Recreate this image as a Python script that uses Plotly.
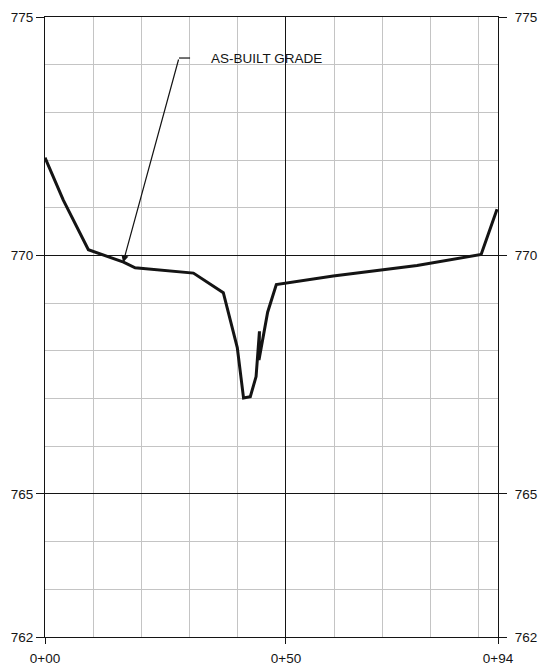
import plotly.graph_objects as go

# Ground profile surveyed along the section (station in ft, elevation in ft)
stations = [0.0, 3.8, 9.0, 16.3, 18.7, 30.8, 37.0, 39.9, 41.2, 42.6, 43.8, 44.5, 44.4,
            46.2, 48.0, 59.8, 77.2, 90.5, 93.8]
elevations = [772.05, 771.16, 770.12, 769.86, 769.74, 769.63, 769.22, 768.07, 767.01,
              767.04, 767.46, 768.41, 767.81, 768.81, 769.39, 769.57, 769.79, 770.02, 770.97]

x_ticks = [0, 50, 94]
x_tick_text = ["0+00", "0+50", "0+94"]
y_ticks = [762, 765, 770, 775]
y_tick_text = ["762", "765", "770", "775"]

callout_text = "AS-BUILT GRADE"
# leader: arrow tip on the profile, elbow, end of horizontal stub
leader_tip = (16.2, 769.85)
leader_elbow = (27.8, 774.14)
leader_end = (30.1, 774.14)

FONT = "Liberation Sans, Arial, sans-serif"
INK = "#141414"
MINOR = "#c4c4c4"

fig = go.Figure()

fig.add_trace(go.Scatter(
    x=stations, y=elevations, mode="lines",
    line=dict(color=INK, width=3), showlegend=False, hoverinfo="skip",
))

# horizontal stub of the leader
fig.add_trace(go.Scatter(
    x=[leader_elbow[0], leader_end[0]], y=[leader_elbow[1], leader_end[1]],
    mode="lines", line=dict(color=INK, width=1.2), showlegend=False, hoverinfo="skip",
))
# invisible trace so the right-hand axis is drawn
fig.add_trace(go.Scatter(x=[0], y=[762], yaxis="y2", mode="markers",
                         marker=dict(opacity=0), showlegend=False, hoverinfo="skip"))

fig.add_annotation(
    x=leader_tip[0], y=leader_tip[1], ax=leader_elbow[0], ay=leader_elbow[1],
    axref="x", ayref="y", xref="x", yref="y", text="",
    showarrow=True, arrowhead=2, arrowsize=1.2, arrowwidth=1.2, arrowcolor=INK,
)
fig.add_annotation(
    x=34.0, y=leader_end[1], xref="x", yref="y", text=callout_text,
    showarrow=False, xanchor="left", yanchor="middle",
    font=dict(family=FONT, size=13.5, color=INK),
)

tick_font = dict(family=FONT, size=13.5, color=INK)

fig.update_layout(
    width=540, height=667,
    margin=dict(l=45, r=42, t=17, b=30),
    paper_bgcolor="white", plot_bgcolor="white",
    xaxis=dict(
        range=[0, 94], tickvals=x_ticks, ticktext=x_tick_text, automargin=False,
        ticks="outside", ticklen=6, tickcolor=INK, tickwidth=1.2,
        ticklabelstandoff=3, tickfont=tick_font,
        showline=True, linecolor=INK, linewidth=1.2, mirror=True, zeroline=False,
        showgrid=True, gridcolor=INK, gridwidth=1.2,
        minor=dict(tick0=0, dtick=10, showgrid=True, gridcolor=MINOR, gridwidth=1, ticks=""),
    ),
    yaxis=dict(
        range=[762, 775], tickvals=y_ticks, ticktext=y_tick_text, automargin=False,
        ticks="outside", ticklen=8, tickcolor=INK, tickwidth=1.2, tickfont=tick_font,
        showline=True, linecolor=INK, linewidth=1.2, mirror=True, zeroline=False,
        showgrid=True, gridcolor=INK, gridwidth=1.2,
        minor=dict(tick0=762, dtick=1, showgrid=True, gridcolor=MINOR, gridwidth=1, ticks=""),
    ),
    yaxis2=dict(
        range=[762, 775], tickvals=y_ticks, ticktext=y_tick_text, automargin=False,
        overlaying="y", side="right", showgrid=False, zeroline=False,
        ticks="outside", ticklen=8, tickcolor=INK, tickwidth=1.2,
        ticklabelstandoff=5, tickfont=tick_font,
        showline=True, linecolor=INK, linewidth=1.2,
    ),
)

fig.write_html("out.html")
